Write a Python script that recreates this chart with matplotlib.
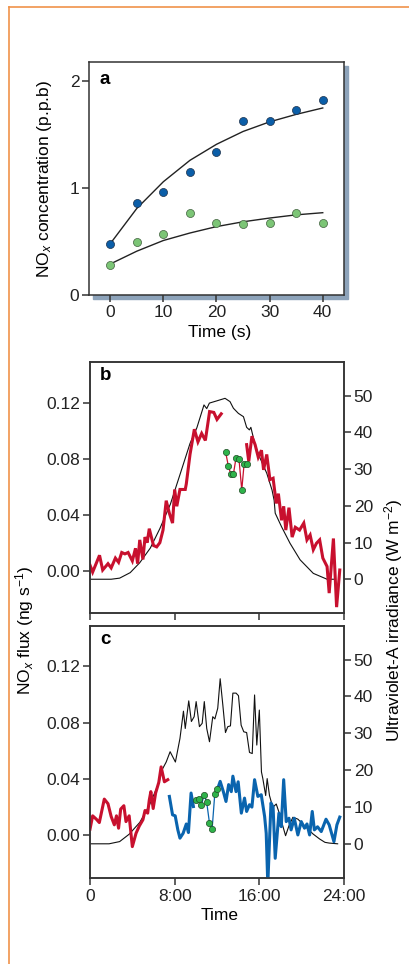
import numpy as np
import matplotlib
matplotlib.use("Agg")
import matplotlib.pyplot as plt
from matplotlib.lines import Line2D
from matplotlib.patches import Rectangle

plt.rcParams['font.family'] = ['Liberation Sans', 'DejaVu Sans']
plt.rcParams['mathtext.fontset'] = 'custom'
plt.rcParams['mathtext.rm'] = 'Liberation Sans'
plt.rcParams['mathtext.it'] = 'Liberation Sans:italic'
plt.rcParams['axes.unicode_minus'] = True

nan = np.nan

# ---- panel a: chamber NOx concentration ----
a_time = [0, 5, 10, 15, 20, 25, 30, 35, 40]
a_blue = [0.48, 0.86, 0.96, 1.15, 1.34, 1.63, 1.63, 1.73, 1.82]
a_green = [0.28, 0.50, 0.57, 0.77, 0.67, 0.66, 0.67, 0.77, 0.67]
a_blue_fit = [0.48, 0.81, 1.06, 1.26, 1.41, 1.53, 1.62, 1.69, 1.75]
a_green_fit = [0.29, 0.41, 0.51, 0.58, 0.64, 0.685, 0.72, 0.75, 0.77]

# ---- panel b: NOx flux (red) and UV-A irradiance (black) ----
b_red_t = [0.0, 0.25, 0.9, 1.2, 1.7, 2.0, 2.4, 2.7, 3.0, 3.3, 3.6, 4.0, 4.3, 4.5,
           4.7, 5.0, 5.2, 5.4, 5.6, 6.0, 6.3, 6.6, 6.9, 7.2, 7.5, 7.8, 8.0, 8.2,
           8.5, 9.0, 9.1, 9.45, 9.86, 10.2, 10.55, 10.9, 11.3, 11.7, 12.0, 12.4,
           nan, 14.8, 15.0, 15.3, 15.6, 15.9, 16.2, 16.4, 16.7, 17.0, 17.3, 17.6,
           17.8, 18.1, 18.3, 18.5, 18.8, 19.1, 19.4, 19.8, 20.2, 20.5, 20.8, 21.1,
           21.4, 21.7, 22.0, 22.4, 22.6, 23.0, 23.3, 23.6]
b_red_f = [0.004, -0.001, 0.011, 0.0005, 0.005, 0.002, 0.009, 0.006, 0.013, 0.012,
           0.013, 0.007, 0.016, 0.005, 0.022, 0.008, 0.024, 0.020, 0.030, 0.018,
           0.017, 0.020, 0.029, 0.050, 0.041, 0.034, 0.058, 0.046, 0.058, 0.058,
           0.062, 0.083, 0.101, 0.092, 0.098, 0.093, 0.1136, 0.113, 0.108, 0.112,
           nan, 0.090, 0.078, 0.096, 0.090, 0.081, 0.086, 0.072, 0.083, 0.065,
           0.066, 0.048, 0.055, 0.036, 0.046, 0.029, 0.045, 0.024, 0.031, 0.029,
           0.034, 0.022, 0.0255, 0.015, 0.0196, 0.022, 0.009, 0.003, -0.016, 0.023,
           -0.026, 0.0005]
b_green_t = [12.82, 13.07, 13.3, 13.55, 13.8, 14.08, 14.34, 14.56, 14.8]
b_green_f = [0.0845, 0.0748, 0.069, 0.0689, 0.0807, 0.0795, 0.0576, 0.0762, 0.076]
b_uv_t = [0, 1, 2, 2.8, 3.8, 4.7, 5.7, 6.6, 7.6, 8.5, 9.45, 10.1, 10.5, 10.77,
          11.03, 11.28, 11.97, 12.76, 13.23, 13.55, 14.02, 14.5, 14.8, 15.06, 15.2,
          15.6, 16.07, 16.7, 17.2, 17.4, 17.5, 18.1, 18.9, 19.85, 21.1, 22.4, 23.0]
b_uv = [0, 0, 0, 0.3, 1.8, 4.5, 8.5, 13.8, 20.5, 28.5, 37, 41.3, 45, 47.5, 46.5,
        48, 48.6, 49.3, 48.4, 46.6, 45.2, 44.3, 41.4, 40.7, 41.4, 36.6, 33, 28.9,
        24.3, 21.5, 18, 14.3, 9.8, 5.3, 1.6, 0, 0]

# ---- panel c ----
c_red_t = [0.0, 0.25, 0.6, 0.88, 1.35, 1.7, 2.0, 2.3, 2.5, 2.7, 2.9, 3.2, 3.4, 3.7,
           4.0, 4.35, 4.66, 5.0, 5.2, 5.45, 5.6, 5.75, 5.97, 6.2, 6.5, 6.72, 7.03,
           7.35]
c_red_f = [0.0043, 0.0138, 0.0114, 0.009, 0.0257, 0.0224, 0.0133, 0.0074, 0.0138,
           0.005, 0.0186, 0.021, 0.0097, 0.0138, -0.0081, 0.0014, 0.0066, 0.011,
           0.0176, 0.0157, 0.025, 0.031, 0.019, 0.030, 0.0376, 0.0486, 0.038, 0.0395]
c_blue_t = [7.5, 7.8, 8.05, 8.3, 8.5, 8.8, 9.1, 9.3, 9.55, 9.77, nan,
            12.04, 12.3, 12.6, 12.85, 13.1, 13.35, 13.5, 13.8, 14.0, 14.3, 14.6,
            14.8, 15.07, 15.3, 15.55, 15.86, 16.18, 16.5, 16.65, 16.8, 17.1, 17.3,
            17.5, 17.85, 18.07, 18.3, 18.54, 18.8, 19.0, 19.3, 19.64, 19.96, 20.27,
            20.5, 20.75, 21.0, 21.2, 21.5, 21.85, 22.3, 22.6, 23.05, 23.33, 23.6]
c_blue_f = [0.0276, 0.0145, 0.0138, 0.0038, -0.0021, 0.0014, 0.008, 0.0019, 0.030,
            0.0204, nan,
            0.0326, 0.0383, 0.031, 0.024, 0.036, 0.031, 0.042, 0.031, 0.038, 0.0157,
            0.0264, 0.0169, 0.0217, 0.020, 0.0395, 0.0276, 0.0288, 0.0133, 0.0014,
            -0.035, 0.0229, 0.020, -0.0164, 0.0157, 0.0061, 0.0395, 0.0097, 0.0121,
            0.0038, 0.0121, 0.0002, 0.0097, 0.005, 0.008, 0.0002, 0.0169, 0.0038,
            0.006, 0.0026, 0.0114, 0.0074, -0.0046, 0.0074, 0.0129]
c_green_t = [10.03, 10.27, 10.53, 10.78, 11.03, 11.29, 11.54, 11.79, 12.04]
c_green_f = [0.0252, 0.0259, 0.0214, 0.0288, 0.0233, 0.0086, 0.0045, 0.0293, 0.0326]
c_uv_t = [0, 1.8, 2.8, 3.7, 4.7, 5.6, 6.55, 6.7, 7.2, 7.57, 8.07, 8.5, 8.83, 9.0,
          9.33, 9.58, 9.84, 10.03, 10.34, 10.6, 10.8, 11.03, 11.29, 11.6, 11.8,
          12.07, 12.3, 12.55, 12.8, 13.02, 13.27, 13.5, 13.8, 14.03, 14.28, 14.53,
          14.8, 15.07, 15.33, 15.55, 15.76, 16.0, 16.2, 16.33, 16.6, 16.74, 16.96,
          17.27, 17.6, 17.85, 18.3, 18.48, 18.8, 19.17, 19.64, 20.1, 20.6, 21.06,
          21.7, 22.2, 22.6, 23.4]
c_uv = [0, 0, 0.6, 2.6, 5.8, 10.4, 16.8, 19.5, 22.2, 25, 22.2, 28.6, 36, 31.3, 38.8,
        33.2, 34.5, 38.6, 31.8, 32.7, 38.6, 31.3, 27.7, 34.5, 33.9, 36.8, 44.8, 37.7,
        30.2, 31.8, 32, 40.9, 40.9, 40.2, 32.2, 30.4, 30.2, 24.8, 24.5, 40.4, 26.8,
        36.3, 19.5, 17.7, 13.1, 17.7, 13.1, 9.9, 10.8, 8.6, 4.0, 2.2, 4.9, 7.2, 6.7,
        5.4, 4.0, 2.7, 1.3, 0.4, 0.2, 0]

RED = '#C8102E'
BLUE = '#0a64ae'
DOT_BLUE = '#0b5ea8'
DOT_LGREEN = '#7cc576'
DOT_GREEN = '#2eb34a'
SPINE = '#333333'
FS = 12.5

W, H = 410, 964
fig = plt.figure(figsize=(W / 100, H / 100), dpi=100)


def fbox(l, t, r, b):
    # pixel box -> figure fraction rect
    return [l / W, 1 - b / H, (r - l) / W, (b - t) / H]


def style(ax):
    for s in ax.spines.values():
        s.set_color(SPINE)
        s.set_linewidth(1.1)
    ax.tick_params(direction='out', length=5, width=1.1, pad=2,
                   labelsize=FS, color=SPINE, labelcolor='#222222')


# orange page rule
fig.add_artist(Line2D([9 / W, 9 / W], [0, 1 - 7 / H], color='#F0924A', lw=1.2))
fig.add_artist(Line2D([9 / W, 1], [1 - 7 / H, 1 - 7 / H], color='#F0924A', lw=1.2))

# ---- panel a ----
fig.add_artist(Rectangle((93 / W, 1 - 299 / H), 255 / W, 233 / H,
                         transform=fig.transFigure, color='#8DA3BA', zorder=0))
ax = fig.add_axes(fbox(89, 62, 344, 295))
ax.set_zorder(1)
style(ax)
ax.plot(a_time, a_blue_fit, color='#222222', lw=1.0)
ax.plot(a_time, a_green_fit, color='#222222', lw=1.0)
ax.plot(a_time, a_blue, 'o', ms=5.8, mfc=DOT_BLUE, mec='#1b2f4a', mew=0.5)
ax.plot(a_time, a_green, 'o', ms=5.8, mfc=DOT_LGREEN, mec='#3f5f3c', mew=0.5)
ax.set_xlim(-4, 44)
ax.set_ylim(0, 2.18)
ax.set_xticks([0, 10, 20, 30, 40])
ax.set_yticks([0, 1, 2])
ax.text(0.04, 0.925, 'a', transform=ax.transAxes, fontsize=13.5,
        fontweight='bold', va='center', ha='left')
fig.text(45 / W, 1 - 179 / H, r'NO$_{\mathit{x}}$ concentration (p.p.b)',
         rotation=90, ha='center', va='center', fontsize=FS)
fig.text(220 / W, 1 - 333 / H, 'Time (s)', ha='center', va='center', fontsize=FS)


def flux_panel(box, letter, show_labels):
    ax = fig.add_axes(fbox(*box))
    ax2 = ax.twinx()
    for a in (ax, ax2):
        style(a)
    ax.set_zorder(ax2.get_zorder() + 1)
    ax.patch.set_visible(False)
    ax.set_xlim(0, 24)
    ax.set_ylim(-0.0302, 0.149)
    ax2.set_ylim(-9.2, 59.2)
    ax.set_yticks([0.0, 0.04, 0.08, 0.12])
    ax.set_yticklabels(['0.00', '0.04', '0.08', '0.12'])
    ax2.set_yticks([0, 10, 20, 30, 40, 50])
    ax.set_xticks([0, 8, 16, 24])
    if show_labels:
        ax.set_xticklabels(['0', '8:00', '16:00', '24:00'])
    else:
        ax.set_xticklabels([])
    ax.tick_params(axis='x', length=5, pad=3)
    ax.text(0.04, 0.945, letter, transform=ax.transAxes, fontsize=13.5,
            fontweight='bold', va='center', ha='left')
    return ax, ax2


# ---- panel b ----
axb, axb2 = flux_panel((90, 362, 344, 613), 'b', False)
axb2.plot(b_uv_t, b_uv, color='#111111', lw=0.8)
axb.plot(b_red_t, b_red_f, color=RED, lw=2.2, solid_joinstyle='miter')
axb.plot(b_green_t, b_green_f, color=RED, lw=0.9)
axb.plot(b_green_t, b_green_f, 'o', ms=4.5, mfc=DOT_GREEN, mec='#1f4d25', mew=0.5)

# ---- panel c ----
axc, axc2 = flux_panel((90, 625.7, 344, 877.7), 'c', True)
axc2.plot(c_uv_t, c_uv, color='#111111', lw=0.8)
axc.plot(c_red_t, c_red_f, color=RED, lw=2.2)
axc.plot(c_blue_t, c_blue_f, color=BLUE, lw=2.2)
axc.plot(c_green_t, c_green_f, color=BLUE, lw=0.9)
axc.plot(c_green_t, c_green_f, 'o', ms=4.5, mfc=DOT_GREEN, mec='#1f4d25', mew=0.5)

fig.text(25 / W, 1 - 630 / H, r'NO$_{\mathit{x}}$ flux (ng s$^{-1}$)',
         rotation=90, ha='center', va='center', fontsize=FS)
fig.text(394 / W, 1 - 620 / H, r'Ultraviolet-A irradiance (W m$^{-2}$)',
         rotation=90, ha='center', va='center', fontsize=FS)
fig.text(220 / W, 1 - 915 / H, 'Time', ha='center', va='center', fontsize=FS)

fig.savefig('out.png', dpi=100)
